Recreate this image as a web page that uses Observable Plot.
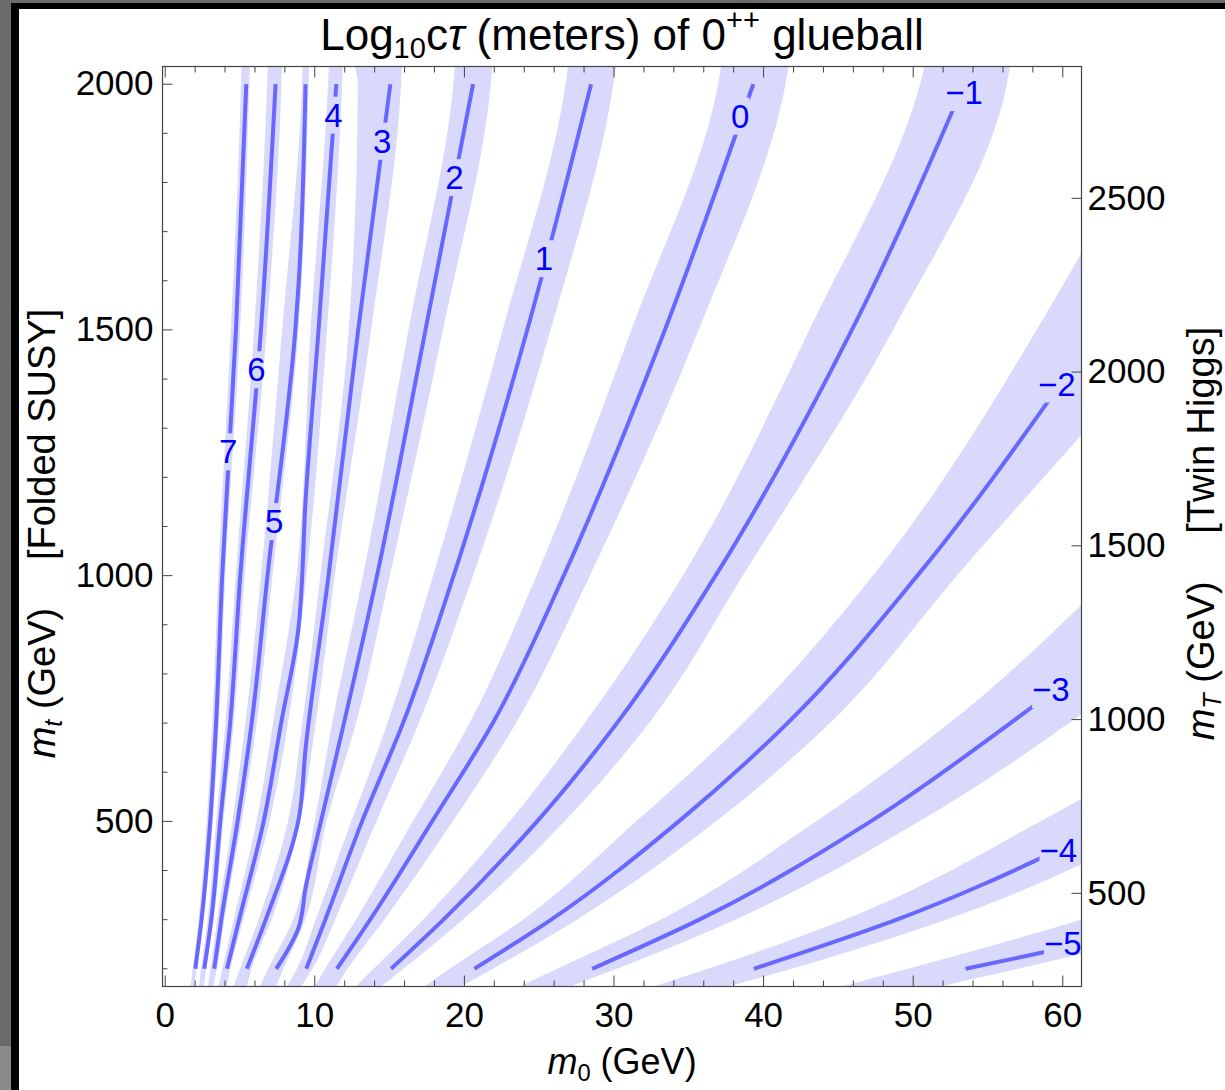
<!DOCTYPE html>
<html>
<head>
<meta charset="utf-8">
<script src="https://cdn.jsdelivr.net/npm/d3@7"></script>
<script src="https://cdn.jsdelivr.net/npm/@observablehq/plot@0.6"></script>
<style>
  html, body { margin: 0; padding: 0; background: #fff; }
  body { width: 1225px; height: 1090px; position: relative; overflow: hidden; }
  #chart { position: absolute; left: 0; top: 0; }
  .edge { position: absolute; }
  #edge-gray-left { left: 0; top: 0; width: 11px; height: 1090px; background: #6b6b6b; }
  #edge-gray-low { left: 0; top: 1046px; width: 11px; height: 44px; background: #8a8a8a; }
  #edge-gray-top { left: 0; top: 0; width: 1225px; height: 3px; background: #6b6b6b; }
  #edge-black-left { left: 11px; top: 3px; width: 8px; height: 1087px; background: #000; }
  #edge-black-top { left: 11px; top: 3px; width: 1214px; height: 6px; background: #000; }
</style>
</head>
<body>
<div id="chart"></div>
<div class="edge" id="edge-gray-left"></div>
<div class="edge" id="edge-gray-low"></div>
<div class="edge" id="edge-gray-top"></div>
<div class="edge" id="edge-black-left"></div>
<div class="edge" id="edge-black-top"></div>
<script>
// Contour levels of log10(c*tau / 1 m)
const contourLevels = [7, 6, 5, 4, 3, 2, 1, 0, -1, -2, -3, -4, -5];

// Central contour lines: m_t (GeV) samples and glueball mass m_0 (GeV) on each line
const lineMt = [
  [200, 300, 500, 700, 1000, 1500, 2000],
  [200, 300, 500, 700, 1000, 1500, 2000],
  [200, 300, 500, 700, 1000, 1500, 1585, 2000],
  [200, 300, 500, 700, 891, 1161, 1500, 2000],
  [200, 300, 501, 653, 1000, 1500, 2000],
  [200, 282, 367, 500, 700, 1000, 1500, 2000],
  [200, 300, 500, 700, 1000, 1500, 2000],
  [200, 300, 500, 700, 1000, 1500, 2000],
  [200, 300, 500, 700, 1000, 1500, 2000],
  [200, 300, 500, 700, 1000, 1397],
  [200, 300, 500, 700, 779],
  [200, 300, 446],
  [200, 242]
];
const lineM0 = [
  [2.01, 2.43, 3.01, 3.40, 3.81, 4.73, 5.42],
  [2.61, 3.08, 3.68, 4.34, 5.02, 6.40, 7.38],
  [3.28, 3.75, 4.84, 5.78, 6.84, 8.70, 8.90, 9.38],
  [4.13, 4.94, 6.58, 7.75, 8.90, 9.40, 10.25, 11.44],
  [5.46, 6.72, 8.90, 9.40, 10.92, 12.90, 15.05],
  [7.42, 8.90, 9.40, 10.41, 11.95, 14.16, 17.40, 20.58],
  [9.43, 10.70, 13.16, 15.90, 19.28, 24.20, 28.47],
  [11.48, 13.70, 17.84, 21.90, 26.64, 33.40, 39.31],
  [15.10, 18.60, 24.86, 30.20, 36.79, 45.90, 53.40],
  [20.67, 25.80, 34.33, 41.60, 50.28, 60.00],
  [28.54, 35.70, 47.16, 56.50, 60.00],
  [39.35, 48.90, 60.00],
  [53.50, 60.00]
];

// Uncertainty bands: lower and upper m_0 (GeV) at each m_t sample
const bandMt = [164, 200, 300, 500, 700, 1000, 1500, 2000, 2036];
const bandLo = [
  [1.73, 1.88, 2.27, 2.81, 3.18, 3.58, 4.42, 5.10, 5.13],
  [2.29, 2.44, 2.88, 3.44, 4.06, 4.75, 5.98, 6.85, 6.89],
  [2.90, 3.07, 3.51, 4.53, 5.40, 6.44, 7.85, 9.18, 9.21],
  [3.60, 3.86, 4.62, 6.15, 7.25, 8.81, 9.75, 10.92, 10.97],
  [4.60, 5.05, 6.28, 8.25, 9.20, 10.41, 12.30, 12.90, 12.70],
  [6.38, 6.94, 8.60, 10.03, 11.20, 13.26, 16.30, 19.30, 19.40],
  [8.20, 8.85, 10.10, 12.49, 14.90, 17.95, 22.60, 26.80, 26.96],
  [10.05, 10.75, 12.80, 16.61, 20.40, 24.86, 31.20, 37.00, 37.20],
  [12.80, 14.00, 17.30, 23.08, 28.10, 34.65, 43.10, 50.50, 50.80],
  [17.40, 19.10, 24.00, 31.55, 38.70, 47.36, 58.30, 67.00, 67.50],
  [23.80, 26.30, 33.20, 43.59, 52.50, 63.30],
  [32.80, 36.40, 45.50, 58.60, 69.80],
  [45.40, 49.80, 61.40, 80.00]
];
const bandHi = [
  [1.97, 2.14, 2.59, 3.21, 3.62, 4.05, 5.04, 5.66, 5.69],
  [2.61, 2.78, 3.28, 3.92, 4.62, 5.35, 6.82, 7.80, 7.83],
  [3.25, 3.49, 3.99, 5.15, 6.16, 7.21, 8.95, 9.62, 9.65],
  [4.15, 4.40, 5.26, 7.01, 8.25, 9.48, 10.85, 11.86, 11.90],
  [5.50, 5.81, 7.16, 9.03, 10.10, 11.37, 13.80, 15.80, 15.85],
  [7.45, 7.95, 9.40, 10.82, 12.80, 15.05, 18.60, 21.80, 21.90],
  [9.15, 9.90, 11.40, 14.16, 17.00, 20.62, 25.80, 30.00, 30.17],
  [11.50, 12.25, 14.70, 19.28, 23.50, 28.43, 35.70, 41.50, 41.70],
  [14.50, 16.00, 19.95, 26.76, 32.40, 38.66, 48.70, 56.30, 56.50],
  [19.90, 22.00, 27.60, 36.90, 44.50, 52.98, 66.90, 76.00, 76.50],
  [27.20, 30.30, 38.20, 50.50, 60.50, 72.80],
  [37.80, 42.00, 52.30, 67.40, 80.30],
  [52.00, 57.20, 70.60, 91.00]
];

// Contour labels and where they sit on their lines
const labelText = ["7", "6", "5", "4", "3", "2", "1", "0", "\u22121", "\u22122", "\u22123", "\u22124", "\u22125"];
const labelM0 = [4.21, 6.09, 7.29, 11.24, 14.51, 19.33, 25.32, 38.44, 53.4, 59.6, 59.2, 59.7, 60.0];
const labelMt = [1250, 1417, 1108, 1935, 1882, 1808, 1643, 1933, 1981, 1388, 766, 439, 250];

// Axis ticks
const xMajor = [0, 10, 20, 30, 40, 50, 60];
const xMinor = d3.range(2, 61, 2).filter(v => v % 10 !== 0);
const yMajor = [500, 1000, 1500, 2000];
const yMinor = d3.range(200, 2001, 100).filter(v => v % 500 !== 0);
const mTwinTicks = [500, 1000, 1500, 2000, 2500]; // m_T = sqrt(2) m_t

// Text pieces: [string, style] with style "it", "sub", "sup"; "gap" adds extra space before the piece
const titleParts = [["Log", ""], ["10", "sub"], ["c", ""], ["\u03c4", "it"], [" (meters) of 0", ""], ["++", "sup"], [" glueball", ""]];
const xLabelParts = [["m", "it"], ["0", "sub"], [" (GeV)", ""]];
const leftLabelParts = [["m", "it"], ["t", "it sub"], [" (GeV)\u00a0\u00a0", ""], ["[Folded SUSY]", "gap"]];
const rightLabelParts = [["m", "it"], ["T", "it sub"], [" (GeV)\u00a0\u00a0", ""], ["[Twin Higgs]", "gap"]];
const plain = parts => parts.map(p => p[0]).join("");

const bandRows = contourLevels.flatMap((L, i) =>
  bandLo[i].map((lo, j) => ({level: L, mt: bandMt[j], lo, hi: bandHi[i][j]})));
const lineRows = contourLevels.flatMap((L, i) =>
  lineMt[i].map((mt, j) => ({level: L, mt, m0: lineM0[i][j]})));

const frameColor = "#444";
const fontFamily = "'Liberation Sans', Arial, Helvetica, sans-serif";

const chart = Plot.plot({
  width: 1225,
  height: 1090,
  marginLeft: 162,
  marginRight: 144,
  marginTop: 66,
  marginBottom: 104,
  x: {domain: [-0.18, 61.25], label: null},
  y: {domain: [164, 2036], label: null},
  style: {fontFamily, fontSize: "35px", color: "#000", background: "transparent", overflow: "visible"},
  marks: [
    Plot.areaX(bandRows, {y: "mt", x1: "lo", x2: "hi", z: "level", fill: "#d9d9fc", curve: "monotone-y", clip: true}),
    Plot.line(lineRows, {x: "m0", y: "mt", z: "level", stroke: "#6868ff", strokeWidth: 4, strokeLinecap: "butt", curve: "monotone-y", clip: true}),
    Plot.text(labelText, {x: (d, i) => labelM0[i], y: (d, i) => labelMt[i], text: d => d, fill: "#0000ff", fontSize: 33}),
    Plot.frame({stroke: frameColor, strokeWidth: 1.2}),
    // inward tick marks
    Plot.axisX(xMajor, {anchor: "bottom", tickSize: -10.5, fill: "none", stroke: frameColor}),
    Plot.axisX(xMinor, {anchor: "bottom", tickSize: -5.5, fill: "none", stroke: frameColor}),
    Plot.axisX(xMajor, {anchor: "top", tickSize: -10.5, fill: "none", stroke: frameColor}),
    Plot.axisX(xMinor, {anchor: "top", tickSize: -5.5, fill: "none", stroke: frameColor}),
    Plot.axisY(yMajor, {anchor: "left", tickSize: -10.5, fill: "none", stroke: frameColor}),
    Plot.axisY(yMinor, {anchor: "left", tickSize: -5.5, fill: "none", stroke: frameColor}),
    Plot.axisY(mTwinTicks.map(v => v / Math.SQRT2), {anchor: "right", tickSize: -10.5, fill: "none", stroke: frameColor}),
    // tick labels
    Plot.axisX(xMajor, {anchor: "bottom", tickSize: 0, tickPadding: 16, stroke: "none", fontSize: 35, tickFormat: d => String(d)}),
    Plot.axisY(yMajor, {anchor: "left", tickSize: 0, tickPadding: 9, stroke: "none", fontSize: 35, tickFormat: d => String(d)}),
    Plot.axisY(mTwinTicks.map(v => v / Math.SQRT2), {anchor: "right", tickSize: 0, tickPadding: 6, stroke: "none", fontSize: 35,
      tickFormat: d => String(Math.round(d * Math.SQRT2))}),
    // title and axis labels
    Plot.text([plain(titleParts)], {frameAnchor: "top", textAnchor: "middle", lineAnchor: "bottom", dy: -17, fontSize: 44}),
    Plot.text([plain(xLabelParts)], {frameAnchor: "bottom", textAnchor: "middle", lineAnchor: "bottom", dy: 87, fontSize: 36}),
    Plot.text([plain(leftLabelParts)], {frameAnchor: "left", textAnchor: "middle", rotate: -90, lineAnchor: "bottom", dx: -108, dy: 7, fontSize: 38}),
    Plot.text([plain(rightLabelParts)], {frameAnchor: "right", textAnchor: "middle", rotate: -90, lineAnchor: "bottom", dx: 132, dy: 7, fontSize: 38})
  ]
});

document.getElementById("chart").append(chart);
const svg = d3.select(chart);

// Rebuild labels with italic, subscript and superscript pieces
function richText(parts, size) {
  const target = plain(parts);
  svg.selectAll("text").filter(function() { return this.textContent === target; }).each(function() {
    const t = d3.select(this);
    t.text(null);
    let shift = 0;
    for (const [s, kind] of parts) {
      const span = t.append("tspan").text(s);
      let want = 0;
      if (kind.includes("sub")) { want = 0.2 * size; span.attr("font-size", 0.66 * size); }
      if (kind.includes("sup")) { want = -0.44 * size; span.attr("font-size", 0.66 * size); }
      if (kind.includes("it")) span.attr("font-style", "italic");
      if (kind.includes("gap")) span.attr("dx", 0.7 * size);
      if (want !== shift) { span.attr("dy", want - shift); shift = want; }
    }
  });
}
richText(titleParts, 44);
richText(xLabelParts, 36);
richText(leftLabelParts, 38);
richText(rightLabelParts, 38);

// Break the contour lines where their labels sit
const svgBox = chart.getBoundingClientRect();
const mask = svg.insert("defs", ":first-child").append("mask")
  .attr("id", "label-gaps").attr("maskUnits", "userSpaceOnUse")
  .attr("x", 0).attr("y", 0).attr("width", 1225).attr("height", 1090);
mask.append("rect").attr("width", 1225).attr("height", 1090).attr("fill", "white");
const labelGroup = chart.querySelectorAll('g[aria-label="text"]')[0];
labelGroup.querySelectorAll("text").forEach(t => {
  const b = t.getBoundingClientRect();
  mask.append("rect")
    .attr("x", b.x - svgBox.x).attr("y", b.y - svgBox.y)
    .attr("width", b.width).attr("height", b.height).attr("fill", "black");
});
svg.select('g[aria-label="line"]').attr("mask", "url(#label-gaps)");
</script>
</body>
</html>
